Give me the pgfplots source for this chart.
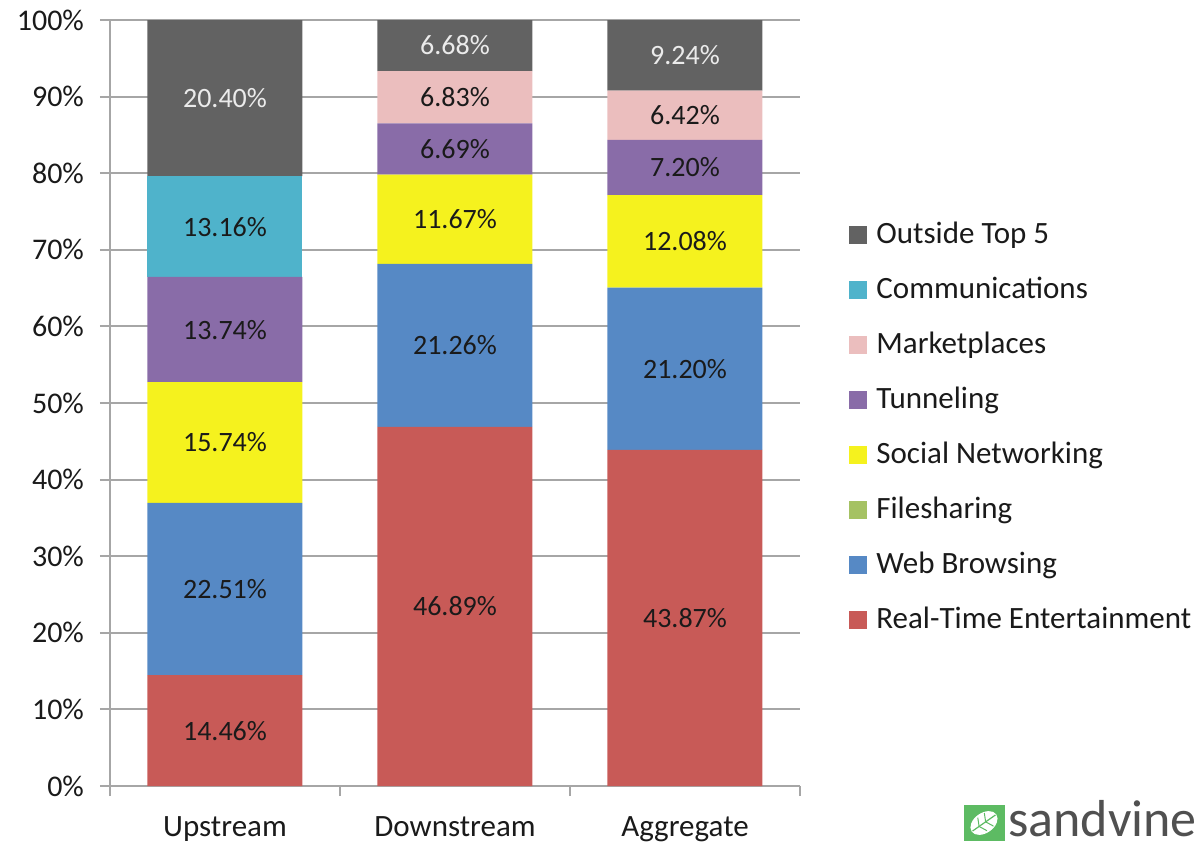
\documentclass[border=0pt]{standalone}
\usepackage{pgfplots}
\pgfplotsset{compat=1.18}
\usepackage{fontspec}
\setmainfont{Carlito}
\definecolor{cOut}{HTML}{626262}
\definecolor{cCom}{HTML}{4FB3CB}
\definecolor{cMar}{HTML}{EBBEBE}
\definecolor{cTun}{HTML}{896CA8}
\definecolor{cSoc}{HTML}{F5F21E}
\definecolor{cFil}{HTML}{A5C263}
\definecolor{cWeb}{HTML}{5689C5}
\definecolor{cRTE}{HTML}{C85A57}
\definecolor{cGrid}{HTML}{A6A6A6}
\definecolor{cTxt}{HTML}{1A1A1A}
\definecolor{cLogo}{HTML}{505050}
\definecolor{cLeaf}{HTML}{5DBB63}
\pgfplotsset{
  seg/.style={fill=#1, draw=none,
    legend image code/.code={\fill[#1] (0pt,-4.5pt) rectangle (9pt,4.5pt);}},
}
\begin{document}
\begin{tikzpicture}
\begin{axis}[
  scale only axis, width=345pt, height=383pt,
  at={(0,0)}, anchor=south west,
  ybar stacked, bar width=77.5pt,
  xmin=-0.5, xmax=2.5, ymin=0, ymax=100,
  axis x line*=bottom, axis y line*=left,
  axis line style={cGrid, line width=1pt},
  xtick={0,1,2}, xticklabels={Upstream,Downstream,Aggregate},
  minor xtick={-0.5,0.5,1.5,2.5},
  major x tick style={draw=none},
  minor x tick style={cGrid, line width=1pt},
  minor tick length=5pt,
  major tick length=5pt,
  tick align=outside,
  ytick={0,10,...,100},
  yticklabels={0\%,10\%,20\%,30\%,40\%,50\%,60\%,70\%,80\%,90\%,100\%},
  y tick style={cGrid, line width=1pt},
  ymajorgrids, grid style={cGrid, line width=1pt},
  yticklabel style={font=\fontsize{15}{18}\selectfont, text=cTxt, xshift=-4.5pt},
  xticklabel style={font=\fontsize{15.5}{18}\selectfont, text=cTxt, yshift=-7pt},
  point meta=explicit symbolic,
  nodes near coords={\pgfplotspointmeta},
  every node near coord/.append style={anchor=center, font=\fontsize{14}{16}\selectfont, text=cTxt},
  legend style={draw=none, fill=none, at={(1,0.468)}, anchor=west, xshift=24.5pt,
    font=\fontsize{15.5}{18}\selectfont, text=cTxt, inner sep=0pt, row sep=12.5pt,
    nodes={inner sep=0pt},
    /tikz/every odd column/.append style={column sep=4.5pt},
    /tikz/every even column/.append style={nodes={text height=11.5pt, text depth=3.5pt}}},
  legend cell align=left,
  reverse legend,
]
\addplot[seg=cRTE] coordinates {(0,14.46) [14.46\%] (1,46.89) [46.89\%] (2,43.87) [43.87\%]};
\addlegendentry{Real-Time Entertainment}
\addplot[seg=cWeb] coordinates {(0,22.51) [22.51\%] (1,21.26) [21.26\%] (2,21.20) [21.20\%]};
\addlegendentry{Web Browsing}
\addplot[seg=cFil] coordinates {(0,0) [\relax] (1,0) [\relax] (2,0) [\relax]};
\addlegendentry{Filesharing}
\addplot[seg=cSoc] coordinates {(0,15.74) [15.74\%] (1,11.67) [11.67\%] (2,12.08) [12.08\%]};
\addlegendentry{Social Networking}
\addplot[seg=cTun] coordinates {(0,13.74) [13.74\%] (1,6.69) [6.69\%] (2,7.20) [7.20\%]};
\addlegendentry{Tunneling}
\addplot[seg=cMar] coordinates {(0,0) [\relax] (1,6.83) [6.83\%] (2,6.42) [6.42\%]};
\addlegendentry{Marketplaces}
\addplot[seg=cCom] coordinates {(0,13.16) [13.16\%] (1,0) [\relax] (2,0) [\relax]};
\addlegendentry{Communications}
\addplot[seg=cOut, every node near coord/.append style={text=white!92!black}] coordinates {(0,20.38) [20.40\%] (1,6.65) [6.68\%] (2,9.22) [9.24\%]};
\addlegendentry{Outside Top 5}
\coordinate (bl) at (rel axis cs:0,0);
\end{axis}
% logo
\fill[cLeaf] ([shift={(427pt,-9.5pt)}]bl) rectangle ([shift={(447.5pt,-27.5pt)}]bl);
\begin{scope}[shift={([shift={(437pt,-18.5pt)}]bl)}, rotate=35]
  \fill[white] (0,0) ellipse (7.5pt and 5pt);
  \draw[cLeaf, line width=0.6pt] (-7pt,0) -- (7pt,0);
  \draw[cLeaf, line width=0.5pt] (-3pt,0) -- (-1pt,4pt) (1pt,0) -- (3pt,4pt) (-3pt,0) -- (-1pt,-4pt) (1pt,0) -- (3pt,-4pt);
\end{scope}
\node[anchor=base west, inner sep=0pt, text=cLogo, font=\fontsize{26}{28}\selectfont] at ([shift={(449pt,-25pt)}]bl) {sandvine};
\pgfresetboundingbox
\path ([shift={(-55pt,-28pt)}]bl) rectangle ([shift={(545.5pt,393pt)}]bl);
\end{tikzpicture}
\end{document}
